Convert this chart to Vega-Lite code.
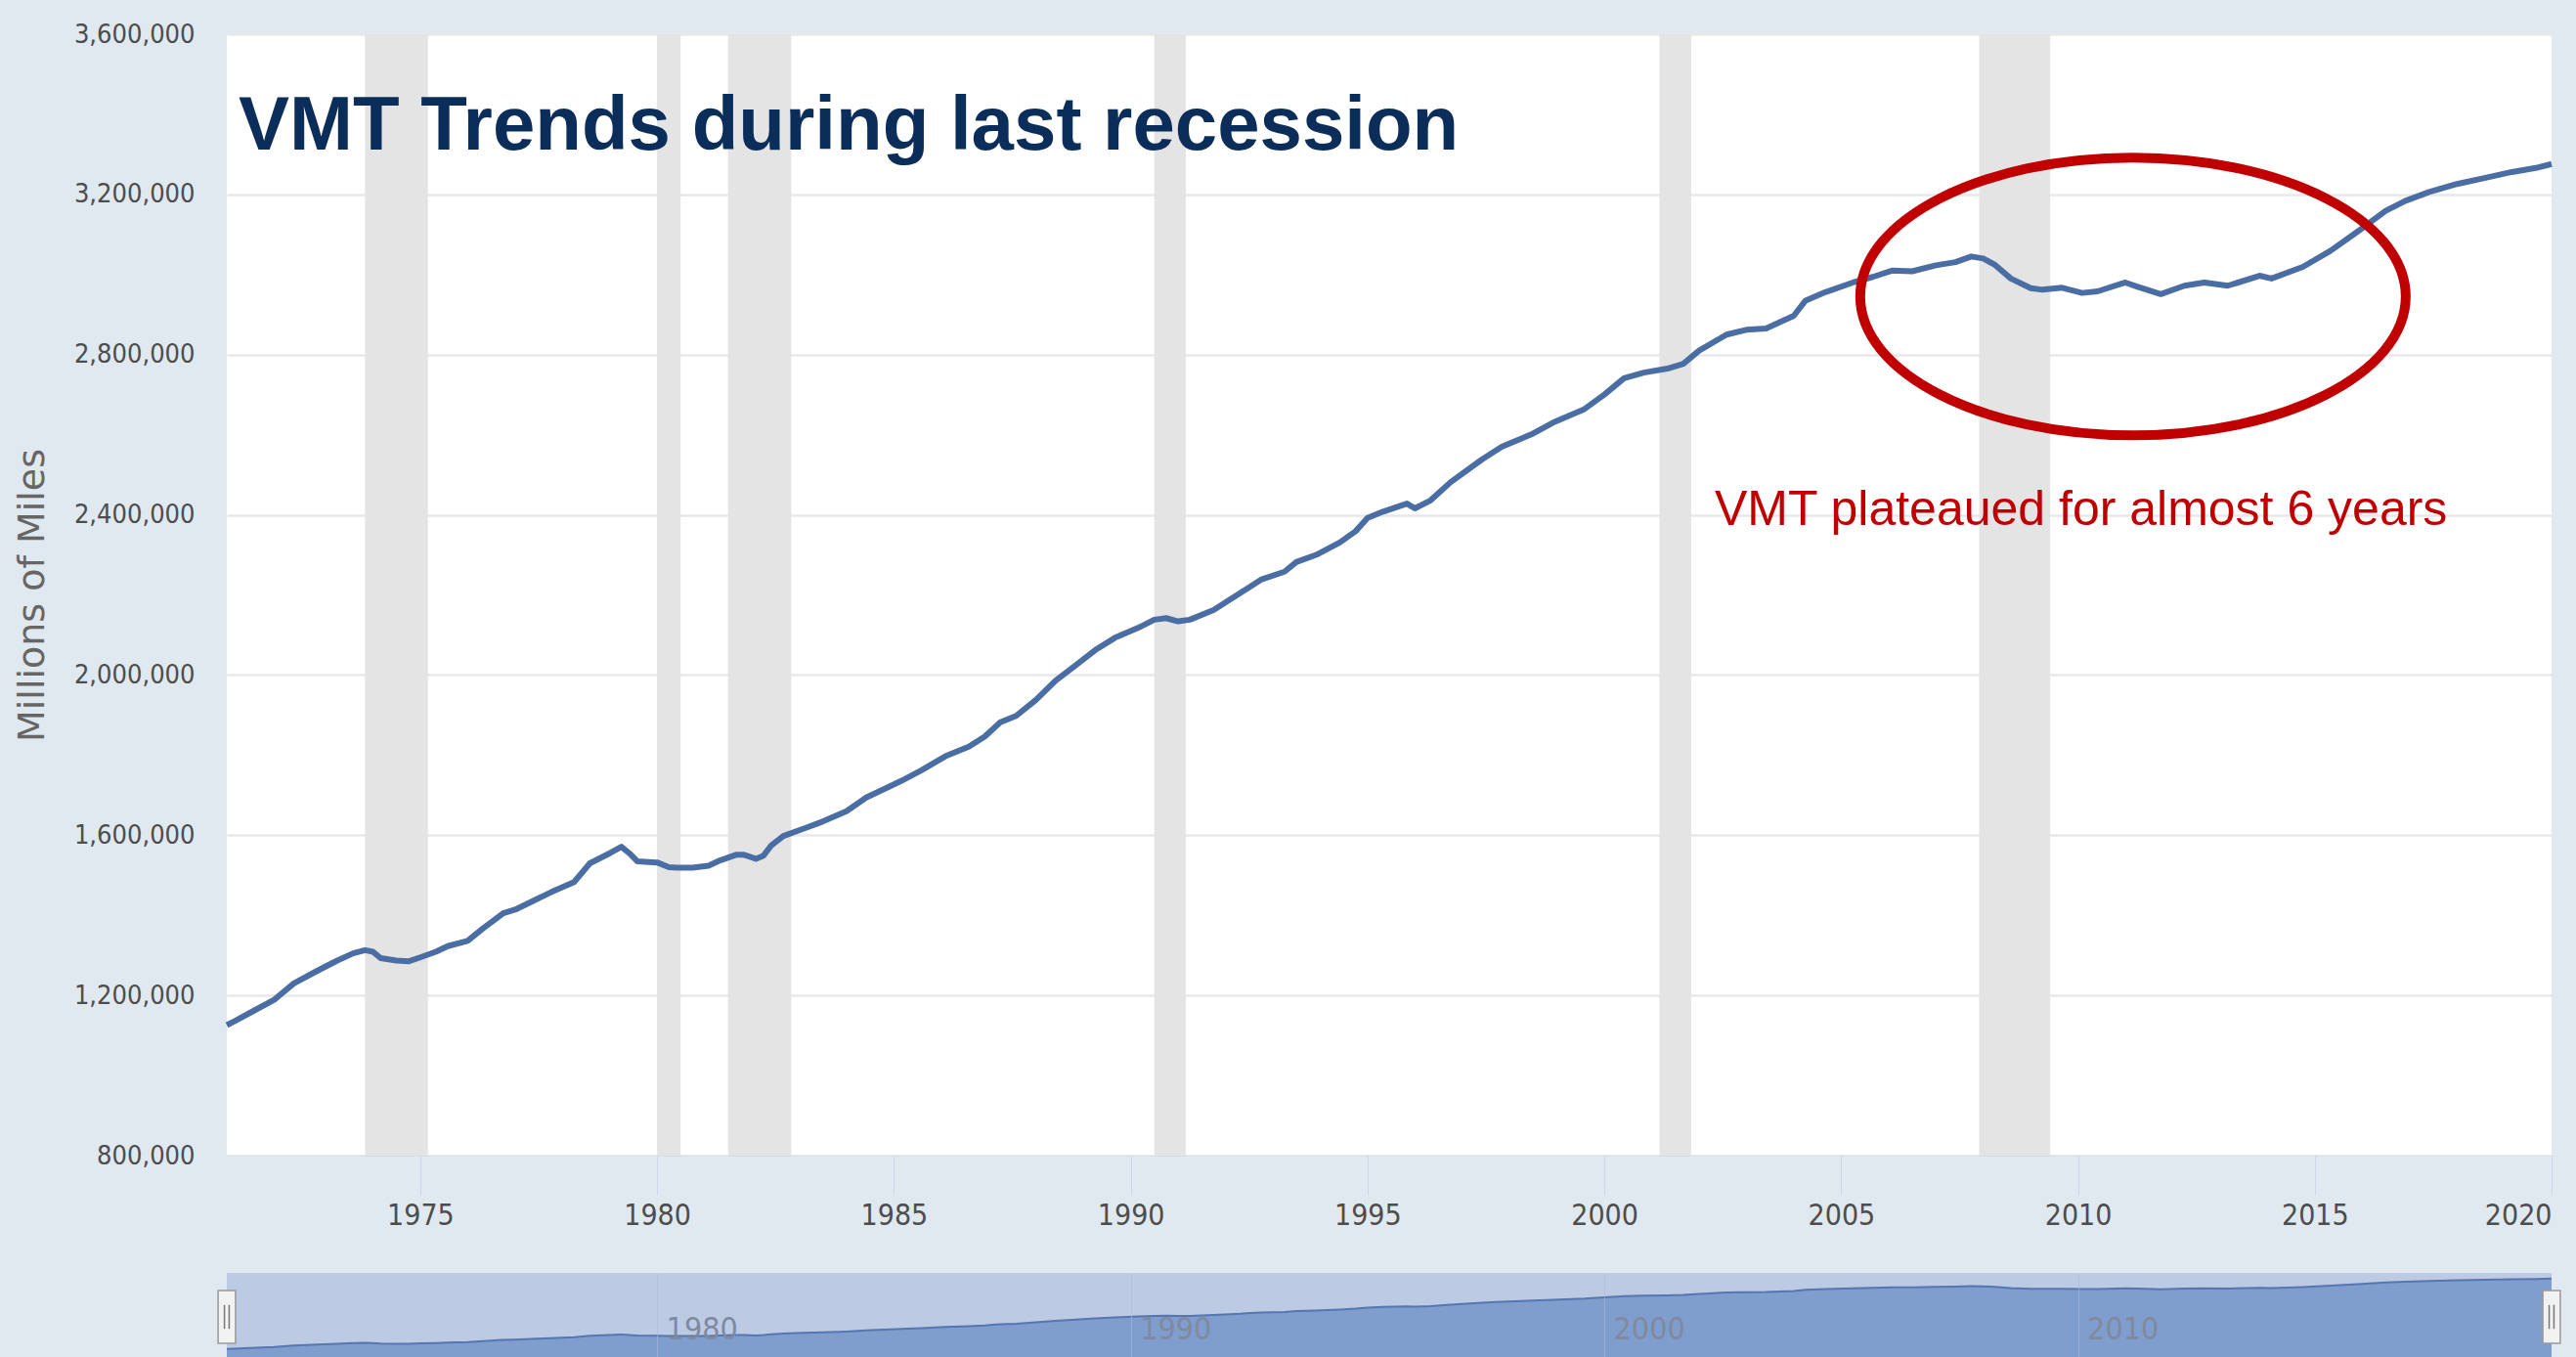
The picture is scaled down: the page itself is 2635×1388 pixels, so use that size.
{
  "$schema": "https://vega.github.io/schema/vega-lite/v6.json",
  "background": "#e1e9f0",
  "padding": {"left": 14, "top": 21, "right": 27, "bottom": 0},
  "config": {"view": {"stroke": null}, "font": "Liberation Sans"},
  "spacing": 120,
  "bounds": "flush",
  "resolve": {"scale": {"x": "independent", "y": "independent"}},
  "datasets": {
    "vmt": [
      {"date": "1970-12-01", "value": 1126000},
      {"date": "1971-02-01", "value": 1136000},
      {"date": "1971-06-01", "value": 1157000},
      {"date": "1971-12-01", "value": 1189000},
      {"date": "1972-05-01", "value": 1230000},
      {"date": "1972-11-01", "value": 1262000},
      {"date": "1973-04-01", "value": 1287000},
      {"date": "1973-08-01", "value": 1305000},
      {"date": "1973-11-01", "value": 1313000},
      {"date": "1974-01-01", "value": 1309000},
      {"date": "1974-03-01", "value": 1293000},
      {"date": "1974-07-01", "value": 1287000},
      {"date": "1974-10-01", "value": 1285000},
      {"date": "1975-01-01", "value": 1295000},
      {"date": "1975-05-01", "value": 1309000},
      {"date": "1975-08-01", "value": 1323000},
      {"date": "1976-01-01", "value": 1336000},
      {"date": "1976-05-01", "value": 1368000},
      {"date": "1976-10-01", "value": 1405000},
      {"date": "1977-01-01", "value": 1414000},
      {"date": "1977-05-01", "value": 1433000},
      {"date": "1977-10-01", "value": 1457000},
      {"date": "1978-04-01", "value": 1483000},
      {"date": "1978-08-01", "value": 1530000},
      {"date": "1979-01-01", "value": 1555000},
      {"date": "1979-04-01", "value": 1571000},
      {"date": "1979-06-01", "value": 1555000},
      {"date": "1979-08-01", "value": 1535000},
      {"date": "1980-01-01", "value": 1532000},
      {"date": "1980-04-01", "value": 1520000},
      {"date": "1980-06-01", "value": 1519000},
      {"date": "1980-10-01", "value": 1519000},
      {"date": "1981-02-01", "value": 1524000},
      {"date": "1981-05-01", "value": 1537000},
      {"date": "1981-09-01", "value": 1551000},
      {"date": "1981-11-01", "value": 1551000},
      {"date": "1982-02-01", "value": 1541000},
      {"date": "1982-04-01", "value": 1549000},
      {"date": "1982-06-01", "value": 1575000},
      {"date": "1982-09-01", "value": 1598000},
      {"date": "1983-02-01", "value": 1616000},
      {"date": "1983-07-01", "value": 1634000},
      {"date": "1984-01-01", "value": 1660000},
      {"date": "1984-06-01", "value": 1694000},
      {"date": "1984-12-01", "value": 1722000},
      {"date": "1985-03-01", "value": 1736000},
      {"date": "1985-08-01", "value": 1762000},
      {"date": "1986-02-01", "value": 1797000},
      {"date": "1986-08-01", "value": 1821000},
      {"date": "1986-12-01", "value": 1846000},
      {"date": "1987-04-01", "value": 1882000},
      {"date": "1987-08-01", "value": 1898000},
      {"date": "1988-01-01", "value": 1938000},
      {"date": "1988-06-01", "value": 1986000},
      {"date": "1988-11-01", "value": 2024000},
      {"date": "1989-04-01", "value": 2062000},
      {"date": "1989-09-01", "value": 2093000},
      {"date": "1990-03-01", "value": 2118000},
      {"date": "1990-07-01", "value": 2138000},
      {"date": "1990-10-01", "value": 2142000},
      {"date": "1991-01-01", "value": 2134000},
      {"date": "1991-04-01", "value": 2138000},
      {"date": "1991-10-01", "value": 2162000},
      {"date": "1992-05-01", "value": 2206000},
      {"date": "1992-10-01", "value": 2238000},
      {"date": "1993-04-01", "value": 2258000},
      {"date": "1993-07-01", "value": 2282000},
      {"date": "1993-12-01", "value": 2300000},
      {"date": "1994-06-01", "value": 2331000},
      {"date": "1994-10-01", "value": 2359000},
      {"date": "1995-01-01", "value": 2392000},
      {"date": "1995-05-01", "value": 2408000},
      {"date": "1995-11-01", "value": 2428000},
      {"date": "1996-01-01", "value": 2416000},
      {"date": "1996-05-01", "value": 2436000},
      {"date": "1996-10-01", "value": 2481000},
      {"date": "1997-06-01", "value": 2538000},
      {"date": "1997-11-01", "value": 2570000},
      {"date": "1998-07-01", "value": 2603000},
      {"date": "1998-12-01", "value": 2630000},
      {"date": "1999-08-01", "value": 2664000},
      {"date": "2000-01-01", "value": 2700000},
      {"date": "2000-06-01", "value": 2741000},
      {"date": "2000-11-01", "value": 2755000},
      {"date": "2001-05-01", "value": 2765000},
      {"date": "2001-09-01", "value": 2777000},
      {"date": "2002-01-01", "value": 2810000},
      {"date": "2002-08-01", "value": 2850000},
      {"date": "2003-01-01", "value": 2862000},
      {"date": "2003-06-01", "value": 2865000},
      {"date": "2004-01-01", "value": 2897000},
      {"date": "2004-04-01", "value": 2935000},
      {"date": "2004-09-01", "value": 2956000},
      {"date": "2005-04-01", "value": 2980000},
      {"date": "2005-09-01", "value": 2994000},
      {"date": "2006-02-01", "value": 3010000},
      {"date": "2006-07-01", "value": 3008000},
      {"date": "2007-01-01", "value": 3023000},
      {"date": "2007-06-01", "value": 3031000},
      {"date": "2007-10-01", "value": 3045000},
      {"date": "2008-01-01", "value": 3040000},
      {"date": "2008-04-01", "value": 3024000},
      {"date": "2008-08-01", "value": 2990000},
      {"date": "2009-01-01", "value": 2966000},
      {"date": "2009-04-01", "value": 2962000},
      {"date": "2009-09-01", "value": 2967000},
      {"date": "2010-02-01", "value": 2954000},
      {"date": "2010-06-01", "value": 2958000},
      {"date": "2011-01-01", "value": 2980000},
      {"date": "2011-04-01", "value": 2970000},
      {"date": "2011-10-01", "value": 2951000},
      {"date": "2012-04-01", "value": 2972000},
      {"date": "2012-09-01", "value": 2980000},
      {"date": "2013-03-01", "value": 2972000},
      {"date": "2013-11-01", "value": 2997000},
      {"date": "2014-02-01", "value": 2990000},
      {"date": "2014-10-01", "value": 3019000},
      {"date": "2015-05-01", "value": 3059000},
      {"date": "2015-12-01", "value": 3108000},
      {"date": "2016-07-01", "value": 3159000},
      {"date": "2016-12-01", "value": 3184000},
      {"date": "2017-06-01", "value": 3206000},
      {"date": "2018-01-01", "value": 3226000},
      {"date": "2018-08-01", "value": 3241000},
      {"date": "2019-03-01", "value": 3256000},
      {"date": "2019-09-01", "value": 3266000},
      {"date": "2020-01-01", "value": 3276000}
    ],
    "recessions": [
      {"start": "1973-11-01", "end": "1975-03-01"},
      {"start": "1980-01-01", "end": "1980-07-01"},
      {"start": "1981-07-01", "end": "1982-11-01"},
      {"start": "1990-07-01", "end": "1991-03-01"},
      {"start": "2001-03-01", "end": "2001-11-01"},
      {"start": "2007-12-01", "end": "2009-06-01"}
    ],
    "notes": [
      {"title": "VMT Trends during last recession", "note": "VMT plateaued for almost 6 years"}
    ]
  },
  "vconcat": [
    {
      "width": 2378,
      "height": 1147,
      "view": {"fill": "#ffffff", "stroke": null},
      "layer": [
        {
          "data": {"name": "recessions"},
          "mark": {"type": "rect", "color": "#e4e4e4"},
          "encoding": {
            "x": {"field": "start", "type": "temporal"},
            "x2": {"field": "end"}
          }
        },
        {
          "data": {"name": "vmt"},
          "mark": {"type": "line", "color": "#4a6ea4", "strokeWidth": 6, "strokeJoin": "round"},
          "encoding": {
            "x": {
              "field": "date",
              "type": "temporal",
              "scale": {"domain": [{"year": 1970, "month": 12, "date": 1}, {"year": 2020, "month": 1, "date": 1}]},
              "axis": {
                "title": null,
                "values": [{"year": 1975}, {"year": 1980}, {"year": 1985}, {"year": 1990}, {"year": 1995}, {"year": 2000}, {"year": 2005}, {"year": 2010}, {"year": 2015}, {"year": 2020}],
                "labelExpr": "timeFormat(datum.value, '%Y')",
                "labelFont": "Liberation Sans Narrow, DejaVu Sans Condensed, Liberation Sans",
                "labelFontSize": 30,
                "labelColor": "#4d4d4d",
                "labelPadding": 6,
                "tickSize": 40,
                "tickColor": "#ccd6eb",
                "tickWidth": 1,
                "domain": true,
                "domainColor": "#d5dce6",
                "grid": false,
                "labelAlign": {"condition": {"test": "year(datum.value) >= 2020", "value": "right"}, "value": "center"}
              }
            },
            "y": {
              "field": "value",
              "type": "quantitative",
              "scale": {"domain": [800000, 3600000], "nice": false, "zero": false},
              "axis": {
                "title": "Millions of Miles",
                "titleFont": "DejaVu Sans",
                "titleFontSize": 38,
                "titleFontWeight": "normal",
                "titleColor": "#666666",
                "titlePadding": 10,
                "values": [800000, 1200000, 1600000, 2000000, 2400000, 2800000, 3200000, 3600000],
                "labelExpr": "format(datum.value, ',')",
                "labelFont": "Liberation Sans Narrow, DejaVu Sans Condensed, Liberation Sans",
                "labelFontSize": 27,
                "labelColor": "#4d4d4d",
                "labelPadding": 33,
                "ticks": false,
                "tickSize": 0,
                "domain": false,
                "grid": true,
                "gridColor": "#e8e8e8",
                "gridWidth": 2.5,
                "minExtent": 170,
                "maxExtent": 170
              }
            }
          }
        },
        {
          "data": {"name": "notes"},
          "mark": {
            "type": "point",
            "shape": "M-1,0C-1,-0.2811,-0.5523,-0.509,0,-0.509C0.5523,-0.509,1,-0.2811,1,0C1,0.2811,0.5523,0.509,0,0.509C-0.5523,0.509,-1,0.2811,-1,0Z",
            "size": 311364,
            "filled": false,
            "stroke": "#c00000",
            "strokeWidth": 10,
            "opacity": 1
          },
          "encoding": {
            "x": {"datum": {"year": 2011, "month": 3, "date": 1}, "type": "temporal"},
            "y": {"datum": 2945000, "type": "quantitative"}
          }
        },
        {
          "data": {"name": "notes"},
          "mark": {"type": "text", "font": "Liberation Sans", "fontSize": 50, "color": "#c00000", "align": "left", "baseline": "middle"},
          "encoding": {
            "text": {"field": "note"},
            "x": {"datum": {"year": 2002, "month": 5, "date": 1}, "type": "temporal"},
            "y": {"datum": 2411000, "type": "quantitative"}
          }
        },
        {
          "data": {"name": "notes"},
          "mark": {"type": "text", "font": "Liberation Sans", "fontSize": 78, "fontWeight": "bold", "color": "#0b2d59", "align": "left", "baseline": "alphabetic"},
          "encoding": {
            "text": {"field": "title"},
            "x": {"datum": {"year": 1971, "month": 3, "date": 1}, "type": "temporal"},
            "y": {"datum": 3311000, "type": "quantitative"}
          }
        }
      ]
    },
    {
      "width": 2378,
      "height": 86,
      "view": {"fill": "#bccae4", "stroke": null},
      "layer": [
        {
          "data": {"name": "vmt"},
          "mark": {"type": "area", "color": "#7f9dcd", "opacity": 1, "clip": true, "line": {"color": "#5676b2", "strokeWidth": 2}},
          "encoding": {
            "x": {
              "field": "date",
              "type": "temporal",
              "scale": {"domain": [{"year": 1970, "month": 12, "date": 1}, {"year": 2020, "month": 1, "date": 1}]},
              "axis": {
                "title": null,
                "orient": "bottom",
                "offset": -44,
                "values": [{"year": 1980}, {"year": 1990}, {"year": 2000}, {"year": 2010}],
                "labelExpr": "timeFormat(datum.value, '%Y')",
                "labelFont": "Liberation Sans Narrow, DejaVu Sans Condensed, Liberation Sans",
                "labelFontSize": 32,
                "labelColor": "#7f8aa1",
                "labelAlign": "left",
                "labelBaseline": "top",
                "labelOffset": 9,
                "labelPadding": 0,
                "ticks": false,
                "domain": false,
                "grid": true,
                "gridColor": "#a9b9d8",
                "gridOpacity": 0.6,
                "zindex": 1
              }
            },
            "y": {
              "field": "value",
              "type": "quantitative",
              "scale": {"domain": [880000, 3450000], "nice": false, "zero": false},
              "axis": null
            }
          }
        },
        {
          "data": {"name": "notes"},
          "mark": {"type": "point", "shape": "M-0.33,-1L0.33,-1L0.33,1L-0.33,1Z", "size": 2916, "filled": true, "fill": "#f2f2f2", "stroke": "#999999", "strokeWidth": 1.5, "opacity": 1},
          "encoding": {
            "x": {"datum": {"year": 1970, "month": 12, "date": 1}, "type": "temporal"},
            "y": {"datum": 2105000, "type": "quantitative"}
          }
        },
        {
          "data": {"name": "notes"},
          "mark": {"type": "point", "shape": "M-0.33,-1L0.33,-1L0.33,1L-0.33,1Z", "size": 2916, "filled": true, "fill": "#f2f2f2", "stroke": "#999999", "strokeWidth": 1.5, "opacity": 1},
          "encoding": {
            "x": {"datum": {"year": 2020, "month": 1, "date": 1}, "type": "temporal"},
            "y": {"datum": 2105000, "type": "quantitative"}
          }
        },
        {
          "data": {"name": "notes"},
          "mark": {"type": "point", "shape": "M-0.09,-0.45L-0.09,0.45M0.09,-0.45L0.09,0.45", "size": 2916, "filled": false, "stroke": "#777777", "strokeWidth": 1.5, "opacity": 1},
          "encoding": {
            "x": {"datum": {"year": 1970, "month": 12, "date": 1}, "type": "temporal"},
            "y": {"datum": 2105000, "type": "quantitative"}
          }
        },
        {
          "data": {"name": "notes"},
          "mark": {"type": "point", "shape": "M-0.09,-0.45L-0.09,0.45M0.09,-0.45L0.09,0.45", "size": 2916, "filled": false, "stroke": "#777777", "strokeWidth": 1.5, "opacity": 1},
          "encoding": {
            "x": {"datum": {"year": 2020, "month": 1, "date": 1}, "type": "temporal"},
            "y": {"datum": 2105000, "type": "quantitative"}
          }
        }
      ]
    }
  ]
}
